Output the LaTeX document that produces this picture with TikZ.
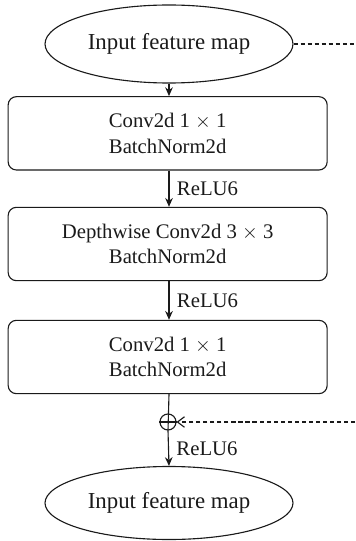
\documentclass[tikz,border=0pt]{standalone}
\usepackage{fontspec}
\setmainfont{Liberation Serif}
\usetikzlibrary{arrows.meta,positioning,shapes.geometric}
\definecolor{ink}{HTML}{1A1A1A}

\begin{document}
\begin{tikzpicture}[font=\fontsize{17.7}{22}\selectfont,
  ink/.style={draw=ink,line width=0.95pt},
  block/.style={ink,rounded corners=7pt,minimum width=9.57cm,minimum height=2.2cm,align=center,text=ink},
  fmap/.style={ink,ellipse,minimum width=7.44cm,text=ink,font=\fontsize{19.5}{22}\selectfont},
  flow/.style={ink,-{Stealth[length=7.5pt,width=6.5pt]}},
  skip/.style={ink,dash pattern=on 3.5pt off 2.5pt}]
\useasboundingbox (0,0) rectangle (10.65,-16.23);
% main path
\node[fmap,minimum height=2.34cm] (in) at (5.07,-1.32){Input feature map};
\node[block] (pw1) at (5.03,-4.0){Conv2d 1 $\times$ 1\\BatchNorm2d};
\node[block] (dw) at (5.03,-7.32){Depthwise Conv2d 3 $\times$ 3\\BatchNorm2d};
\node[block] (pw2) at (5.03,-10.71){Conv2d 1 $\times$ 1\\BatchNorm2d};
\node[ink,circle,minimum size=0.48cm,inner sep=0pt] (add) at (5.04,-12.66){};
\draw[ink] (add.west) -- (add.east);
\node[fmap,minimum height=2.19cm] (out) at (5.07,-15.09){Input feature map};
% arrows
\draw[flow] (in.south) -- (in.south |- pw1.north);
\draw[flow] (pw1.south -| in.south) -- node[right=3pt,text=ink]{ReLU6} (dw.north -| in.south);
\draw[flow] (dw.south -| in.south) -- node[right=3pt,text=ink]{ReLU6} (pw2.north -| in.south);
\draw[ink] (pw2.south -| in.south) -- (add.south);
\draw[flow] (add.south) -- node[right=3pt,text=ink]{ReLU6} (out.north);
% shortcut
\coordinate (sk1) at (10.65,-1.32);
\coordinate (sk2) at (10.65,-12.66);
\draw[skip] (in.east) -- (sk1);
\draw[skip,-{Straight Barb[length=6pt,width=9pt]}] (sk2) -- (add.east);
\end{tikzpicture}
\end{document}
